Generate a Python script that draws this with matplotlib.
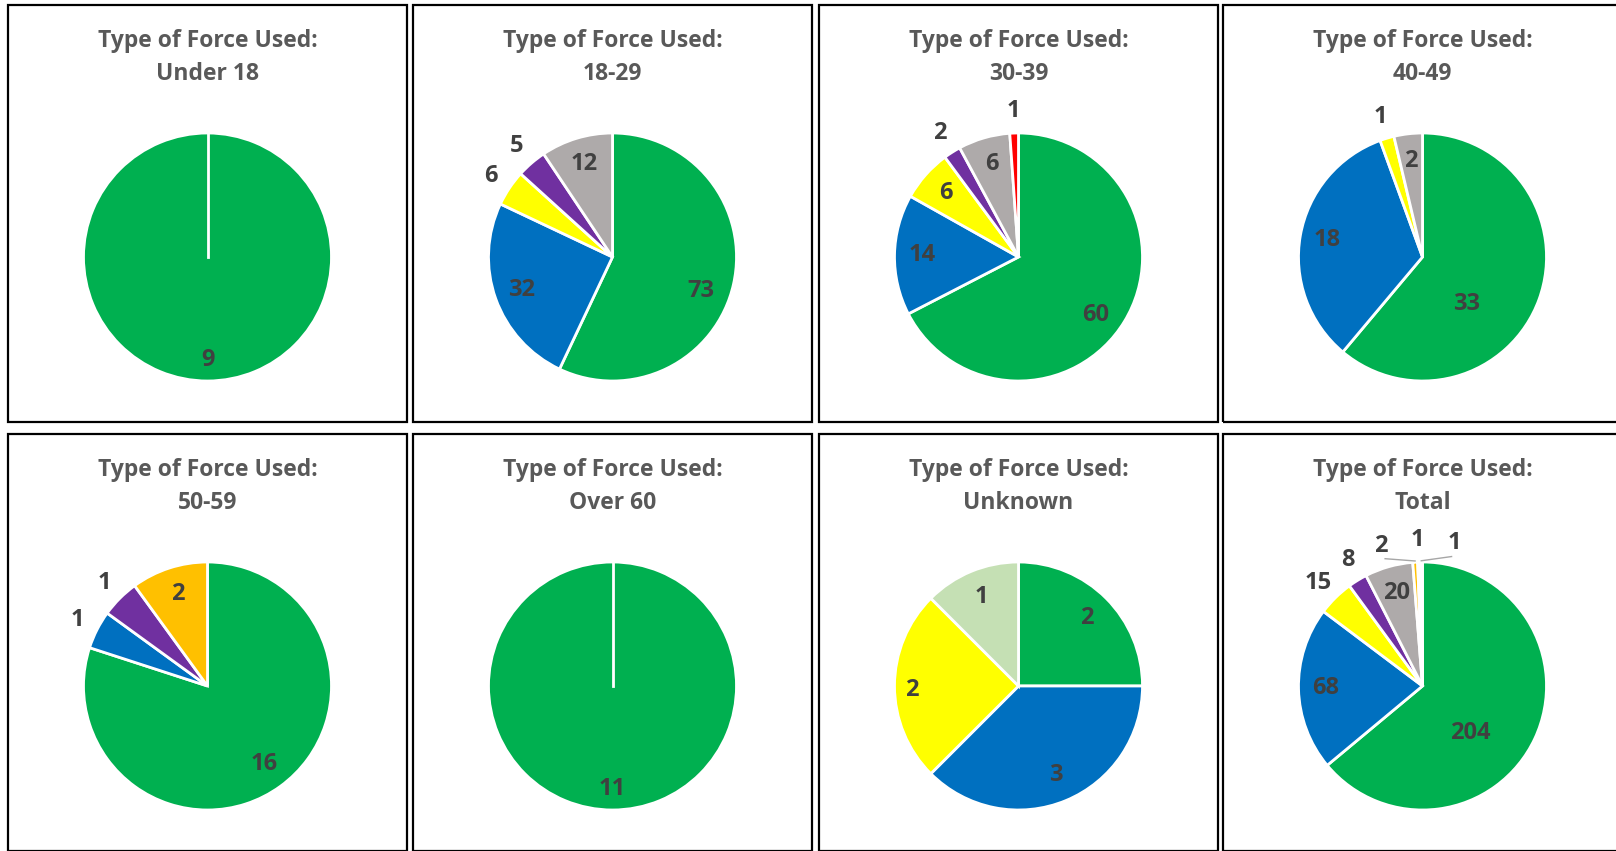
import numpy as np
import matplotlib.pyplot as plt
from matplotlib.patches import Rectangle

plt.rcParams['font.family'] = ['Open Sans', 'DejaVu Sans']

# data: one value per age group, per force type
groups = ['Under 18', '18-29', '30-39', '40-49', '50-59', 'Over 60', 'Unknown', 'Total']
force_types = ['green', 'blue', 'yellow', 'purple', 'gray', 'orange', 'red', 'lightgreen']
green_vals = [9, 73, 60, 33, 16, 11, 2, 204]
blue_vals = [0, 32, 14, 18, 1, 0, 3, 68]
yellow_vals = [0, 6, 6, 1, 0, 0, 2, 15]
purple_vals = [0, 5, 2, 0, 1, 0, 0, 8]
gray_vals = [0, 12, 6, 2, 0, 0, 0, 20]
orange_vals = [0, 0, 0, 0, 2, 0, 0, 2]
red_vals = [0, 0, 1, 0, 0, 0, 0, 1]
lightgreen_vals = [0, 0, 0, 0, 0, 0, 1, 1]

series = [green_vals, blue_vals, yellow_vals, purple_vals, gray_vals,
          orange_vals, red_vals, lightgreen_vals]
colors = {'green': '#00B050', 'blue': '#0070C0', 'yellow': '#FFFF00', 'purple': '#7030A0',
          'gray': '#AEAAAA', 'orange': '#FFC000', 'red': '#FF0000', 'lightgreen': '#C5E0B4'}

# which labels sit outside the pie (Excel "best fit" choices)
outside = {
    '18-29': ['yellow', 'purple'],
    '30-39': ['purple', 'red'],
    '40-49': ['yellow'],
    '50-59': ['blue', 'purple'],
    'Total': ['yellow', 'purple', 'orange', 'red', 'lightgreen'],
}
# Excel nudges a few big-slice labels: (angle clockwise from top, radius)
label_pos = {
    ('18-29', 'green'): (111, 0.76),
    ('30-39', 'green'): (127, 0.78),
    ('40-49', 'green'): (137, 0.52),
    ('Total', 'green'): (135, 0.54),
    ('Unknown', 'yellow'): (268, 0.86),
}

W, H = 1616, 851
fig = plt.figure(figsize=(W / 100, H / 100), dpi=100)

panel_x = [8, 413, 819, 1223]
panel_w = 399
panel_y = [5, 434]
panel_h = 417
R = 124  # pie radius in px
LIM = 1.5


def spread(angles, gap=14.5):
    a = list(angles)
    for _ in range(200):
        moved = False
        for i in range(len(a) - 1):
            d = a[i + 1] - a[i]
            if d < gap:
                push = (gap - d) / 2 + 0.01
                a[i] -= push
                a[i + 1] += push
                moved = True
        if not moved:
            break
    return a


for k, grp in enumerate(groups):
    row, col = divmod(k, 4)
    px, py = panel_x[col], panel_y[row]
    fig.add_artist(Rectangle((px / W, 1 - (py + panel_h) / H), panel_w / W, panel_h / H,
                             transform=fig.transFigure, fill=False, edgecolor='black', lw=1.6))
    cx = px + panel_w / 2
    fig.text(cx / W, 1 - (py + 36) / H, 'Type of Force Used:', ha='center', va='center',
             fontsize=16.5, fontweight='bold', color='#595959')
    fig.text(cx / W, 1 - (py + 69) / H, grp, ha='center', va='center',
             fontsize=16.5, fontweight='bold', color='#595959')

    cy = py + 252
    ax = fig.add_axes([(cx - R * LIM) / W, 1 - (cy + R * LIM) / H, 2 * R * LIM / W, 2 * R * LIM / H])

    names = [n for n, s in zip(force_types, series) if s[k] > 0]
    vals = [s[k] for s in series if s[k] > 0]
    ax.pie(vals, colors=[colors[n] for n in names], startangle=90, counterclock=False,
           radius=1.0, wedgeprops=dict(edgecolor='white', linewidth=2))
    ax.set_xlim(-LIM, LIM)
    ax.set_ylim(-LIM, LIM)
    ax.set_aspect('equal')
    ax.axis('off')
    if len(vals) == 1:
        ax.plot([0, 0], [0, 1], color='white', lw=2)

    total = sum(vals)
    cum = np.cumsum([0] + vals)
    mids = [(cum[i] + vals[i] / 2) / total * 360 for i in range(len(vals))]
    outs = outside.get(grp, [])

    out_idx = [i for i, n in enumerate(names) if n in outs]
    out_mid = [mids[i] - 360 if mids[i] > 180 else mids[i] for i in out_idx]
    out_ang = spread(out_mid)

    for i, (n, v) in enumerate(zip(names, vals)):
        if n in outs:
            j = out_idx.index(i)
            a = out_ang[j]
            r = 1.18
            if abs(a - out_mid[j]) > 4:
                t0 = np.radians(90 - out_mid[j])
                t1 = np.radians(90 - a)
                ax.plot([1.01 * np.cos(t0), 1.07 * np.cos(t1)], [1.01 * np.sin(t0), 1.07 * np.sin(t1)],
                        color='#A6A6A6', lw=1)
        elif (grp, n) in label_pos:
            a, r = label_pos[(grp, n)]
        else:
            a = mids[i]
            r = 0.83 if len(vals) == 1 else 0.78
        t = np.radians(90 - a)
        ax.text(r * np.cos(t), r * np.sin(t), str(v), ha='center', va='center',
                fontsize=17, fontweight='bold', color='#404040')

fig.savefig('out.png', dpi=100)
